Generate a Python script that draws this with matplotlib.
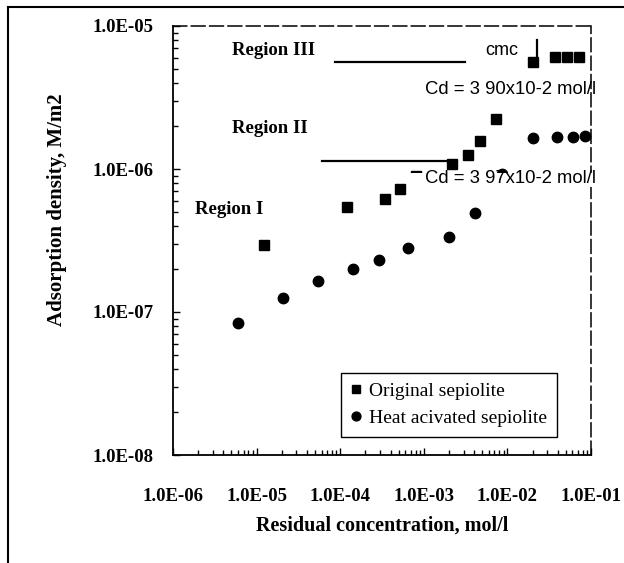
import matplotlib
matplotlib.use("Agg")
import matplotlib.pyplot as plt
from matplotlib.ticker import FuncFormatter, LogLocator, NullFormatter
from matplotlib.lines import Line2D
from matplotlib.patches import Rectangle

# ---------------- data ----------------
orig_x = [1.24e-5, 1.20e-4, 3.39e-4, 5.19e-4, 8.07e-4, 2.20e-3, 3.40e-3, 4.70e-3,
          7.30e-3, 2.01e-2, 3.71e-2, 5.16e-2, 7.18e-2]
orig_y = [2.94e-7, 5.38e-7, 6.20e-7, 7.24e-7, 8.93e-7, 1.08e-6, 1.26e-6, 1.56e-6,
          2.24e-6, 5.63e-6, 6.10e-6, 6.10e-6, 6.10e-6]

heat_x = [5.94e-6, 2.07e-5, 5.47e-5, 1.42e-4, 2.94e-4, 6.41e-4, 1.99e-3, 4.09e-3,
          8.55e-3, 2.02e-2, 3.92e-2, 6.10e-2, 8.47e-2]
heat_y = [8.41e-8, 1.26e-7, 1.66e-7, 2.01e-7, 2.30e-7, 2.82e-7, 3.33e-7, 4.90e-7,
          9.22e-7, 1.66e-6, 1.67e-6, 1.68e-6, 1.69e-6]

region3_line_x = [8.67e-5, 3.11e-3]
region3_line_y = [5.56e-6, 5.56e-6]
region2_line_x = [6.05e-5, 2.06e-3]
region2_line_y = [1.13e-6, 1.13e-6]
cmc_arrow_x = [2.24e-2, 2.24e-2]
cmc_arrow_y = [8.0e-6, 6.2e-6]

x_ticks = [1e-6, 1e-5, 1e-4, 1e-3, 1e-2, 1e-1]
y_ticks = [1e-8, 1e-7, 1e-6, 1e-5]

series_labels = ["Original sepiolite", "Heat acivated sepiolite"]
x_title = "Residual concentration, mol/l"
y_title = "Adsorption density, M/m2"

# ---------------- figure ----------------
SERIF = ["Liberation Serif", "DejaVu Serif"]
SANS = ["Liberation Sans", "DejaVu Sans"]

fig = plt.figure(figsize=(6.24, 5.63), dpi=100)
ax = fig.add_axes([173/624, 1-455/563, (591-173)/624, (455-26)/563])
ax.set_xscale("log")
ax.set_yscale("log")
ax.set_xlim(1e-6, 1e-1)
ax.set_ylim(1e-8, 1e-5)

ax.plot(orig_x, orig_y, linestyle="none", marker="s", markersize=7,
        color="black", label=series_labels[0], zorder=3)
ax.plot(heat_x, heat_y, linestyle="none", marker="o", markersize=7.5,
        color="black", label=series_labels[1], zorder=3)

ax.plot(region3_line_x, region3_line_y, color="black", lw=1.6, zorder=2)
ax.plot(region2_line_x, region2_line_y, color="black", lw=1.6, zorder=2)
ax.plot(cmc_arrow_x, cmc_arrow_y, color="black", lw=1.6, zorder=2)

fmt = FuncFormatter(lambda v, p: f"{v:.1E}")
ax.set_xticks(x_ticks)
ax.set_yticks(y_ticks)
ax.xaxis.set_minor_locator(LogLocator(base=10, subs=range(2, 10), numticks=20))
ax.yaxis.set_minor_locator(LogLocator(base=10, subs=range(2, 10), numticks=20))
ax.xaxis.set_major_formatter(fmt)
ax.yaxis.set_major_formatter(fmt)
ax.xaxis.set_minor_formatter(NullFormatter())
ax.yaxis.set_minor_formatter(NullFormatter())

ax.tick_params(which="both", direction="in", top=False, right=False, color="black")
ax.tick_params(which="major", length=5, width=1)
ax.tick_params(which="minor", length=3.5, width=1)
ax.tick_params(axis="x", which="major", pad=24)
ax.tick_params(axis="y", which="major", pad=14)
for lab in ax.get_xticklabels() + ax.get_yticklabels():
    lab.set_fontfamily(SERIF)
    lab.set_fontweight("bold")
    lab.set_fontsize(13.5)

for s in ["left", "bottom"]:
    ax.spines[s].set_linewidth(1.3)
for s in ["top", "right"]:
    ax.spines[s].set_linewidth(1.1)
    ax.spines[s].set_linestyle((0, (9, 3)))

# region labels
ax.text(0.141, 0.944, "Region III", transform=ax.transAxes, ha="left", va="center",
        fontfamily=SERIF, fontweight="bold", fontsize=13.5)
ax.text(0.141, 0.762, "Region II", transform=ax.transAxes, ha="left", va="center",
        fontfamily=SERIF, fontweight="bold", fontsize=13.5)
ax.text(0.053, 0.573, "Region I", transform=ax.transAxes, ha="left", va="center",
        fontfamily=SERIF, fontweight="bold", fontsize=13.5)

ax.text(0.786, 0.944, "cmc", transform=ax.transAxes, ha="center", va="center",
        fontfamily=SANS, fontsize=13)
ax.text(0.808, 0.851, "Cd = 3 90x10-2 mol/l", transform=ax.transAxes, ha="center",
        va="center", fontfamily=SANS, fontsize=13.3)
# white patch behind the lower label that hides part of two markers
ax.add_patch(Rectangle((0.565, 0.625), 0.45, 0.0335, transform=ax.transAxes,
                       facecolor="white", edgecolor="none", zorder=4, clip_on=False))
ax.text(0.808, 0.645, "Cd = 3 97x10-2 mol/l", transform=ax.transAxes, ha="center",
        va="center", fontfamily=SANS, fontsize=13.3, zorder=5)

leg = ax.legend(loc="lower left", bbox_to_anchor=(0.402, 0.042), frameon=True,
                fancybox=False, edgecolor="black", framealpha=1,
                prop={"family": SERIF, "size": 14}, handlelength=0.55,
                handletextpad=0.4, borderpad=0.5, labelspacing=0.5,
                borderaxespad=0, markerscale=0.85)
leg.get_frame().set_linewidth(1.0)

fig.text(382/624, 1-526/563, x_title, ha="center", va="center",
         fontfamily=SERIF, fontweight="bold", fontsize=14.5)
fig.text(57/624, 1-210/563, y_title, ha="center", va="center", rotation=90,
         fontfamily=SERIF, fontweight="bold", fontsize=15)

# scanned page border
fig.add_artist(Line2D([8/624, 8/624], [0, 1-8/563], transform=fig.transFigure,
                      color="black", lw=1.5))
fig.add_artist(Line2D([8/624, 1], [1-7/563, 1-7/563], transform=fig.transFigure,
                      color="black", lw=1.5))

fig.savefig("out.png", dpi=100)
